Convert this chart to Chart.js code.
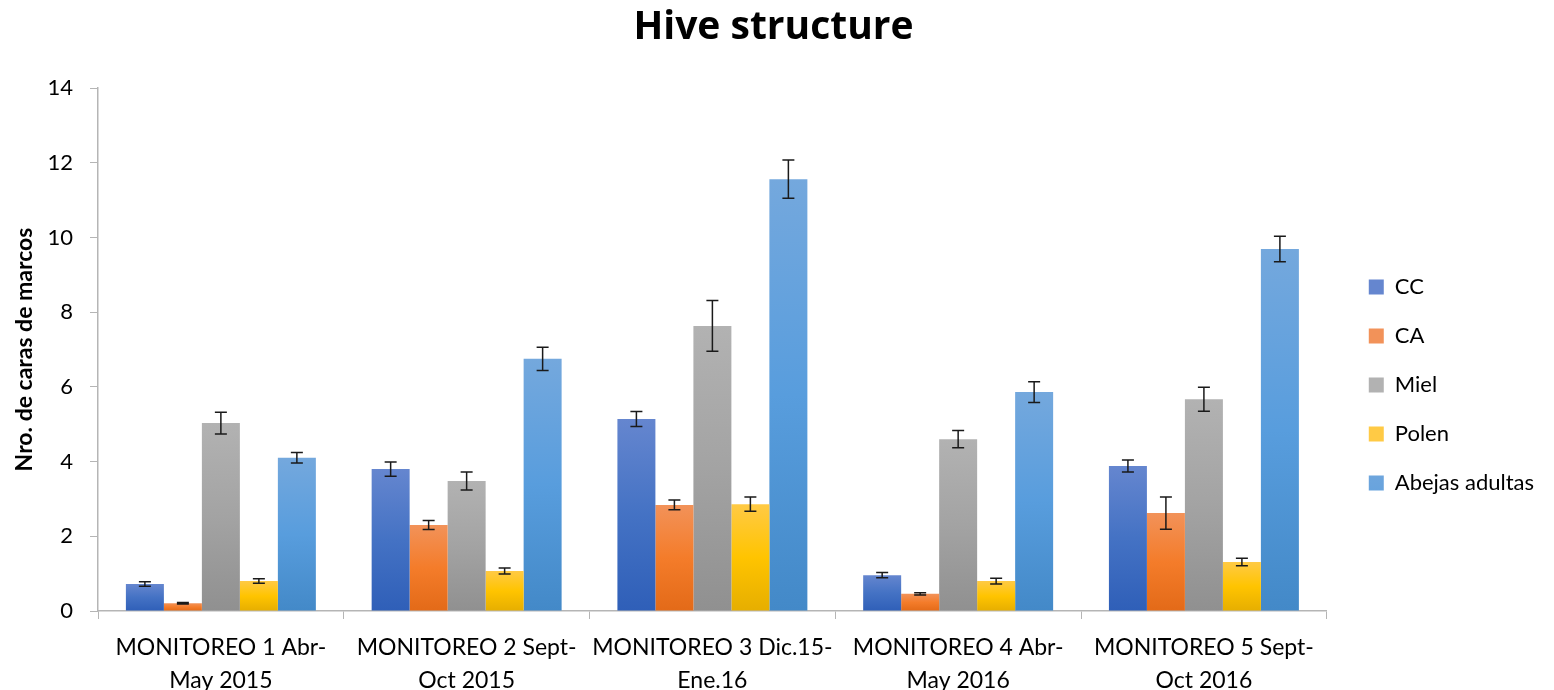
<!DOCTYPE html>
<html>
<head>
<meta charset="utf-8">
<script src="https://cdn.jsdelivr.net/npm/chart.js@4.4.0/dist/chart.umd.min.js"></script>
<style>
  html, body { margin: 0; padding: 0; background: #fff; }
</style>
</head>
<body>
<canvas id="hiveChart" width="1554" height="690"></canvas>
<script>
// Categories (two-line tick labels)
const categories = [
    ['MONITOREO 1 Abr-', 'May 2015'],
    ['MONITOREO 2 Sept-', 'Oct 2015'],
    ['MONITOREO 3 Dic.15-', 'Ene.16'],
    ['MONITOREO 4 Abr-', 'May 2016'],
    ['MONITOREO 5 Sept-', 'Oct 2016']
];

// Series values and their error bars
const cc = [0.72, 3.80, 5.14, 0.96, 3.88];
const ccErr = [0.06, 0.19, 0.20, 0.07, 0.16];
const ca = [0.21, 2.30, 2.84, 0.46, 2.62];
const caErr = [0.02, 0.12, 0.13, 0.03, 0.43];
const miel = [5.03, 3.48, 7.63, 4.60, 5.67];
const mielErr = [0.29, 0.24, 0.68, 0.23, 0.32];
const polen = [0.80, 1.07, 2.86, 0.80, 1.31];
const polenErr = [0.06, 0.08, 0.19, 0.075, 0.10];
const abejas = [4.10, 6.75, 11.56, 5.86, 9.69];
const abejasErr = [0.14, 0.31, 0.51, 0.28, 0.34];

const yTicks = [0, 2, 4, 6, 8, 10, 12, 14];

const FONT = 'Lato, "Open Sans", sans-serif';

// top / middle / bottom colours of the Excel-style bar gradients
const palette = {
    CC: ['#6586cf', '#4472c4', '#2f5fb8'],
    CA: ['#f29259', '#f47c2a', '#e36a18'],
    Miel: ['#b2b2b2', '#a3a3a3', '#909090'],
    Polen: ['#ffca45', '#ffc400', '#e6ae00'],
    'Abejas adultas': ['#74a8dd', '#589ddd', '#4389c8']
};

function barFill(name) {
    const stops = palette[name];
    return (context) => {
        const chart = context.chart;
        if (context.type !== 'data' || !chart.chartArea) return stops[1];
        const y = chart.scales.y;
        const top = y.getPixelForValue(context.parsed.y);
        const bottom = y.getPixelForValue(0);
        if (!isFinite(top) || !isFinite(bottom) || bottom - top < 1) return stops[1];
        const g = chart.ctx.createLinearGradient(0, top, 0, bottom);
        g.addColorStop(0, stops[0]);
        g.addColorStop(0.5, stops[1]);
        g.addColorStop(1, stops[2]);
        return g;
    };
}

function makeSet(label, values, errors) {
    return {
        label: label,
        data: values,
        errors: errors,
        backgroundColor: barFill(label),
        borderWidth: 0,
        categoryPercentage: 0.773,
        barPercentage: 1.0
    };
}

// Error bars drawn with the y scale of the chart
const errorBars = {
    id: 'errorBars',
    afterDatasetsDraw(chart) {
        const ctx = chart.ctx;
        const yScale = chart.scales.y;
        chart.data.datasets.forEach((ds, i) => {
            const meta = chart.getDatasetMeta(i);
            if (meta.hidden) return;
            meta.data.forEach((bar, j) => {
                const v = ds.data[j];
                const e = ds.errors[j];
                const top = yScale.getPixelForValue(v + e);
                const bot = yScale.getPixelForValue(v - e);
                const half = 6;
                ctx.save();
                ctx.strokeStyle = '#1a1a1a';
                ctx.lineWidth = 1.5;
                ctx.beginPath();
                ctx.moveTo(bar.x, top);
                ctx.lineTo(bar.x, bot);
                ctx.moveTo(bar.x - half, top);
                ctx.lineTo(bar.x + half, top);
                ctx.moveTo(bar.x - half, bot);
                ctx.lineTo(bar.x + half, bot);
                ctx.stroke();
                ctx.restore();
            });
        });
    }
};

// move the legend block right and down, and centre the title on the page, as Excel does
const layoutNudge = {
    id: 'layoutNudge',
    afterLayout(chart) {
        const lg = chart.legend;
        if (lg) {
            lg.left += 15;
            lg.right += 30;
            lg.top += 40;
            lg.bottom += 40;
            lg.width = lg.right - lg.left;
            lg.height = lg.bottom - lg.top;
        }
        const tb = chart.titleBlock;
        if (tb) {
            tb.left += 9;
            tb.right += 9;
        }
    }
};

const axisGrey = '#b5b5b5';

new Chart(document.getElementById('hiveChart'), {
    type: 'bar',
    data: {
        labels: categories,
        datasets: [
            makeSet('CC', cc, ccErr),
            makeSet('CA', ca, caErr),
            makeSet('Miel', miel, mielErr),
            makeSet('Polen', polen, polenErr),
            makeSet('Abejas adultas', abejas, abejasErr)
        ]
    },
    options: {
        responsive: false,
        animation: false,
        layout: { padding: { left: 0, right: 25, top: 0, bottom: 0 } },
        scales: {
            x: {
                grid: {
                    display: true,
                    drawOnChartArea: false,
                    drawTicks: true,
                    tickLength: 8,
                    color: axisGrey,
                    offset: true
                },
                border: { color: axisGrey, width: 1.5 },
                ticks: {
                    color: '#000',
                    padding: 12,
                    maxRotation: 0,
                    autoSkip: false,
                    font: { family: FONT, size: 23, lineHeight: 1.45 }
                },
                afterFit: (scale) => { scale.height = 79; }
            },
            y: {
                min: 0,
                max: 14,
                afterBuildTicks: (scale) => {
                    scale.ticks = yTicks.map(v => ({ value: v }));
                },
                grid: {
                    display: true,
                    drawOnChartArea: false,
                    drawTicks: true,
                    tickLength: 8,
                    color: axisGrey
                },
                border: { color: axisGrey, width: 1.5 },
                ticks: {
                    color: '#000',
                    padding: 17,
                    font: { family: FONT, size: 22 }
                },
                title: {
                    display: true,
                    text: 'Nro. de caras de marcos',
                    color: '#000',
                    padding: { top: 11, bottom: 0 },
                    font: { family: FONT, size: 23, weight: 'bold', lineHeight: 1.2 }
                },
                afterFit: (scale) => { scale.width = 98; }
            }
        },
        plugins: {
            title: {
                display: true,
                text: 'Hive structure',
                color: '#000',
                padding: { top: 4, bottom: 37.2 },
                font: { family: '"Open Sans", Lato, sans-serif', size: 39, weight: 'bold', lineHeight: 1.2 }
            },
            legend: {
                position: 'right',
                labels: {
                    color: '#000',
                    boxWidth: 15,
                    boxHeight: 15,
                    padding: 27,
                    font: { family: FONT, size: 22 }
                }
            },
            tooltip: { enabled: false }
        }
    },
    plugins: [errorBars, layoutNudge]
});
</script>
</body>
</html>
